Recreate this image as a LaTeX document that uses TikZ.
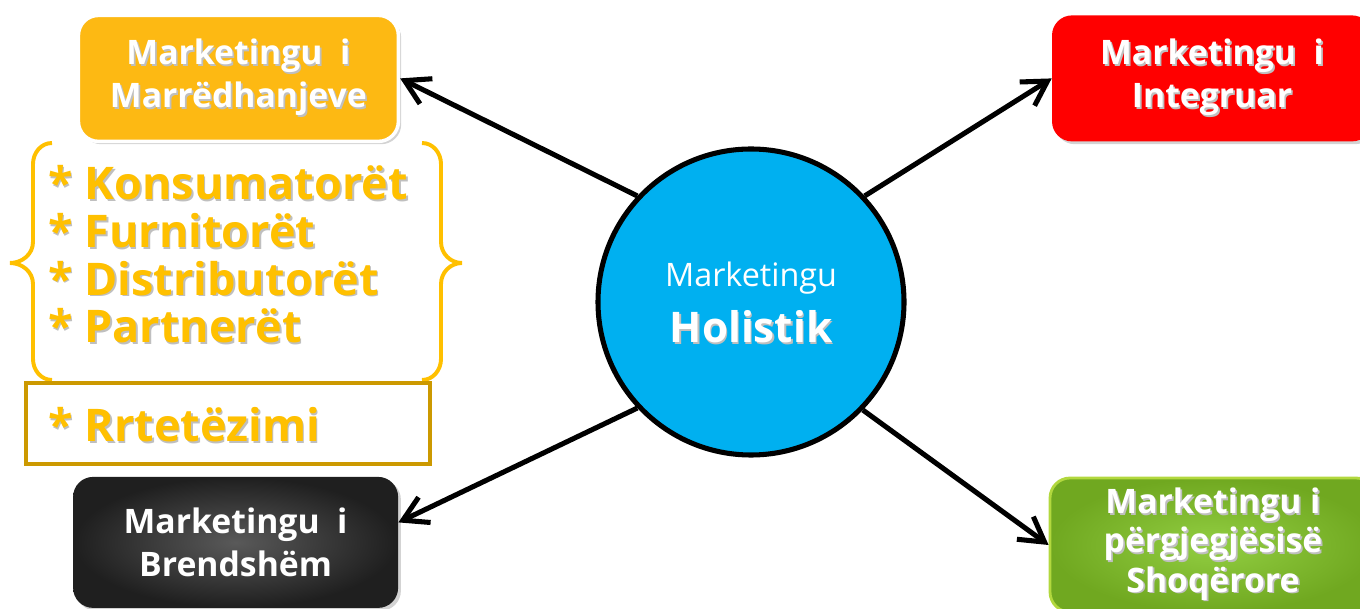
\documentclass[tikz,border=0pt]{standalone}
\usepackage{fontspec}
\setmainfont{Open Sans}
\usetikzlibrary{arrows.meta, shadows}
\definecolor{goldbox}{RGB}{253,185,19}
\definecolor{goldtext}{RGB}{255,192,0}
\definecolor{goldedge}{RGB}{204,153,0}
\definecolor{holblue}{RGB}{0,176,240}
\definecolor{intred}{RGB}{255,0,0}
\definecolor{grnin}{RGB}{146,206,66}
\definecolor{grnout}{RGB}{112,168,32}
\definecolor{grnedge}{RGB}{178,216,62}
\newcommand\shad[1]{\rlap{\kern1.2pt\raisebox{-1.2pt}{\textcolor{black!25}{#1}}}#1}

\begin{document}
\begin{tikzpicture}[
  box/.style={rounded corners=0.5cm, minimum width=8cm, minimum height=3.15cm, align=center, text=white,
    font=\fontsize{24}{30.5}\selectfont\bfseries, drop shadow={shadow xshift=2pt, shadow yshift=-2pt, opacity=0.35}},
  arr/.style={line width=3.6pt, -{Straight Barb[length=6mm, width=7mm]}},
  item/.style={anchor=base west, text=goldtext, inner sep=0pt, font=\fontsize{32}{38}\selectfont\bfseries},
  curl/.style={draw=goldtext, line width=2.8pt}
]
\useasboundingbox (0,0) rectangle (34,-15.225);

\node (hol) [circle, draw=black, line width=3.6pt, fill=holblue, minimum size=7.65cm, inner sep=0pt] at (18.775,-7.55) {};
\node (holm) [anchor=base, text=white, font=\fontsize{23}{28}\selectfont] at (18.775,-7.175) {Marketingu};
\node (holh) [anchor=base, text=white, font=\fontsize{30}{36}\selectfont\bfseries] at (18.775,-8.575) {\shad{Holistik}};

\node (rel) [box, fill=goldbox, draw=white, line width=2.5pt] at (5.96,-1.96) {\shad{Marketingu\ \ i}\\\shad{Marrëdhanjeve}};
\node (int) [box, fill=intred] at (30.3,-1.96) {\shad{Marketingu\ \ i}\\\shad{Integruar}};
\node (blk) [box, minimum width=8.125cm, minimum height=3.275cm, shading=radial, inner color=black!65, outer color=black!88] at (5.89,-13.56) {Marketingu\ \ i\\Brendshëm};
\node (grn) [box, minimum width=8.15cm, minimum height=3.35cm, draw=grnedge, line width=2pt, shading=radial, inner color=grnin, outer color=grnout,
  font=\fontsize{24}{28}\selectfont\bfseries] at (30.325,-13.625) {\shad{Marketingu i}\\\shad{përgjegjësisë}\\\shad{Shoqërore}};

\draw[arr] (hol.137) -- (rel.east);
\draw[arr] (hol.43.6) -- (int.west);
\draw[arr] (hol.223) -- ([yshift=0.5cm]blk.east);
\draw[arr] (hol.316) -- (grn.west);

%\draw (0,0) rectangle (34,-15.225);
\draw[curl] (1.3,-3.575) to[out=180,in=90] (0.825,-4.1) -- (0.825,-6.05) to[out=-90,in=0] (0.25,-6.575)
  to[out=0,in=90] (0.825,-7.1) -- (0.825,-8.975) to[out=-90,in=180] (1.3,-9.5);
\draw[curl] (10.55,-3.575) to[out=0,in=90] (11.025,-4.1) -- (11.025,-6.05) to[out=-90,in=180] (11.55,-6.575)
  to[out=180,in=90] (11.025,-7.1) -- (11.025,-8.975) to[out=-90,in=0] (10.55,-9.5);
\foreach \t [count=\i] in {Konsumatorët, Furnitorët, Distributorët, Partnerët}
  \node (it\i) [item] at (1.2,{-5.0-(\i-1)*1.19}) {\shad{* \t}};

\draw[goldedge, line width=2.8pt] (0.65,-9.575) rectangle (10.75,-11.6);
\node (rrt) [item] at (1.2,-11.05) {\shad{* Rrtetëzimi}};
\end{tikzpicture}
\end{document}
